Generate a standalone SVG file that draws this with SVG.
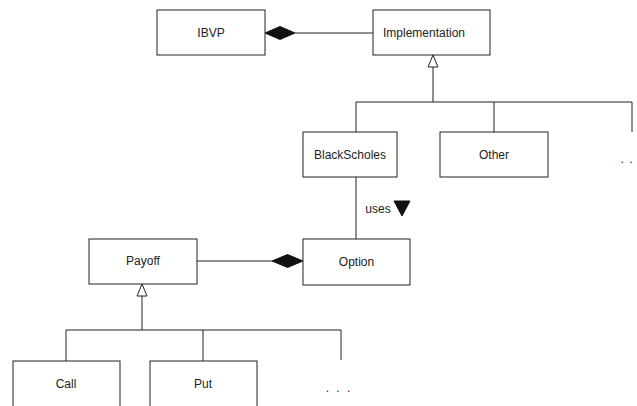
<svg xmlns="http://www.w3.org/2000/svg" width="637" height="406" viewBox="0 0 637 406">
<style>
.box{fill:#fff;stroke:#222;stroke-width:1}
.t{font-family:"Liberation Sans",Arial,sans-serif;font-size:12px;fill:#222;text-anchor:middle}
.ln{fill:none;stroke:#222;stroke-width:1}
.dia{fill:#111;stroke:#111;stroke-width:1}
.tri{fill:#fff;stroke:#222;stroke-width:1}
</style>
<rect width="637" height="406" fill="#fff"/>
<g id="connectors">
<line class="ln" x1="295" y1="33" x2="373" y2="33"/>
<polygon class="dia" points="265,33 280,26.5 295,33 280,39.5"/>
<line class="ln" x1="433" y1="67" x2="433" y2="102"/>
<polygon class="tri" points="433,55 438,67 428,67"/>
<polyline class="ln" points="356,132 356,102 632,102 632,132"/>
<line class="ln" x1="494" y1="102" x2="494" y2="132"/>
<line class="ln" x1="356" y1="177" x2="356" y2="239"/>
<text class="t" x="378" y="213">uses</text>
<polygon class="dia" points="394,201 410,201 402,216"/>
<line class="ln" x1="197" y1="261" x2="272" y2="261"/>
<polygon class="dia" points="272,261 287.5,254.5 303,261 287.5,267.5"/>
<line class="ln" x1="142" y1="296" x2="142" y2="330"/>
<polygon class="tri" points="142,284 147,296 137,296"/>
<polyline class="ln" points="66,361 66,330 341,330 341,360"/>
<line class="ln" x1="203" y1="330" x2="203" y2="361"/>
</g>
<g id="IBVP"><rect class="box" x="157" y="10" width="108" height="45"/><text class="t" x="211" y="37">IBVP</text></g>
<g id="Implementation"><rect class="box" x="373" y="10" width="117" height="45"/><text class="t" x="424" y="37">Implementation</text></g>
<g id="BlackScholes"><rect class="box" x="303" y="132" width="94" height="45"/><text class="t" x="350" y="159">BlackScholes</text></g>
<g id="Other"><rect class="box" x="440" y="132" width="108" height="45"/><text class="t" x="494" y="159">Other</text></g>
<g id="more1"><text class="t" x="627" y="163" letter-spacing="1">. .</text></g>
<g id="Option"><rect class="box" x="303" y="239" width="107" height="46"/><text class="t" x="356.5" y="266">Option</text></g>
<g id="Payoff"><rect class="box" x="89" y="239" width="108" height="45"/><text class="t" x="143" y="265">Payoff</text></g>
<g id="Call"><rect class="box" x="13" y="361" width="107" height="60"/><text class="t" x="66" y="388">Call</text></g>
<g id="Put"><rect class="box" x="150" y="361" width="107" height="60"/><text class="t" x="203" y="388">Put</text></g>
<g id="more2"><text class="t" x="339" y="392" letter-spacing="2">. . .</text></g>
</svg>
